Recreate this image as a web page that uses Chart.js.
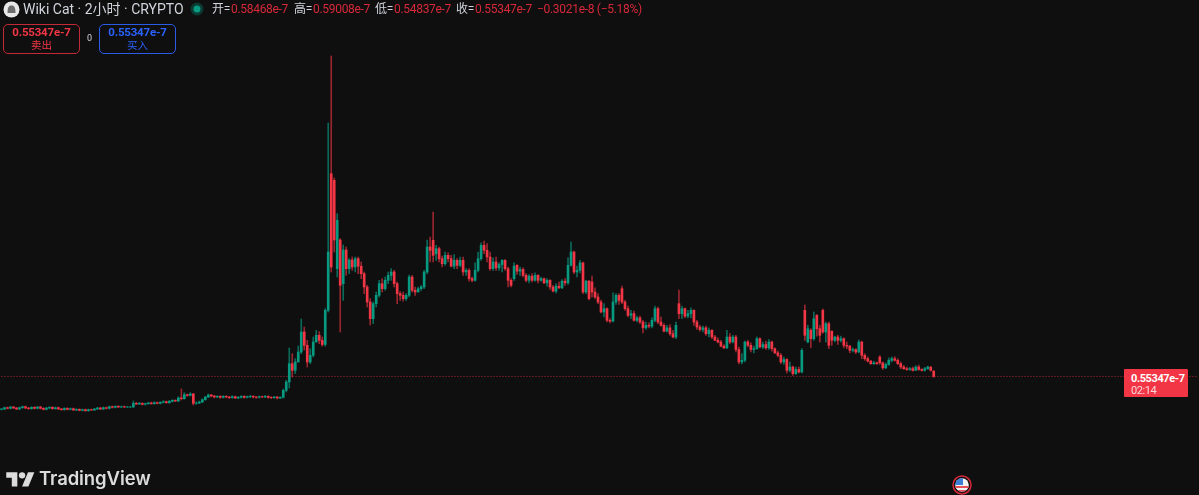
<!DOCTYPE html>
<html>
<head>
<meta charset="utf-8">
<title>Wiki Cat</title>
<script src="https://cdn.jsdelivr.net/npm/chart.js@4"></script>
<style>
  html, body { margin: 0; padding: 0; background: #0f0f0f; overflow: hidden; }
  #wrap { position: relative; width: 1199px; height: 495px; font-family: Roboto, "Noto Sans CJK SC", sans-serif; }
  canvas { position: absolute; left: 0; top: 0; }
  .t { position: absolute; white-space: nowrap; line-height: 16px; font-size: 12px; letter-spacing: -.3px; }
  .g { color: #d1d4dc; }
  .r { color: #d8293a; }
  .box { position: absolute; top: 24px; width: 75px; height: 28px; border: 1px solid; border-radius: 5px; text-align: center; }
  .box b { display: block; font-size: 11.5px; line-height: 14px; letter-spacing: -.2px; }
  .box span { display: block; font-size: 10.5px; line-height: 13px; }
  #last { position: absolute; left: 1124px; top: 369px; width: 64px; height: 28px; background: #f23645; border-radius: 1px; color: #fff; font-size: 11px; letter-spacing: -.4px; }
  #last div { position: absolute; left: 7px; line-height: 13px; white-space: nowrap; }
</style>
</head>
<body>
<div id="wrap">
  <canvas id="candles" width="1199" height="495"></canvas>

  <svg style="position:absolute;left:3px;top:1px" width="17" height="17" viewBox="0 0 17 17">
    <circle cx="8.5" cy="8.5" r="8" fill="#e8e8e8"/>
    <path d="M4.5 12 C4.5 6 6 4.5 8.5 4.5 S12.5 6 12.5 12 Z" fill="#6d6d6d"/>
  </svg>
  <div class="t g" style="left:23px;top:1px;font-size:14px;letter-spacing:0">Wiki Cat · 2小时 · CRYPTO</div>
  <svg style="position:absolute;left:190px;top:2px" width="14" height="14" viewBox="0 0 14 14">
    <circle cx="7" cy="7" r="6.5" fill="#0c3a33"/>
    <circle cx="7" cy="7" r="3.5" fill="#089981"/>
  </svg>
  <div class="t g" style="left:212px;top:1px">开=</div>
  <div class="t r" style="left:231px;top:1px">0.58468e-7</div>
  <div class="t g" style="left:294px;top:1px">高=</div>
  <div class="t r" style="left:313px;top:1px">0.59008e-7</div>
  <div class="t g" style="left:375px;top:1px">低=</div>
  <div class="t r" style="left:394px;top:1px">0.54837e-7</div>
  <div class="t g" style="left:456px;top:1px">收=</div>
  <div class="t r" style="left:475px;top:1px">0.55347e-7</div>
  <div class="t r" style="left:537px;top:1px">−0.3021e-8 (−5.18%)</div>

  <div class="box" style="left:3px;border-color:#c22a38;color:#f23645"><b>0.55347e-7</b><span>卖出</span></div>
  <div class="t g" style="left:87px;top:30px;font-size:9px">0</div>
  <div class="box" style="left:99px;border-color:#2a5ce8;color:#2962ff"><b>0.55347e-7</b><span>买入</span></div>

  <div id="last">
    <div style="top:3px;font-weight:700">0.55347e-7</div>
    <div style="top:15px;opacity:.8">02:14</div>
  </div>

  <svg style="position:absolute;left:6px;top:469px" width="29" height="19" viewBox="0 0 36 24">
    <path d="M14 22H7V11H0V4h14v18zM28 22h-8l7.5-18h8L28 22z" fill="#dcdcdc"/>
    <circle cx="20" cy="8" r="4" fill="#dcdcdc"/>
  </svg>
  <div class="t" style="left:39px;top:466px;font-size:18.5px;line-height:24px;font-weight:600;color:#dcdcdc;font-family:Inter,sans-serif;letter-spacing:-.1px">TradingView</div>

  <svg style="position:absolute;left:952px;top:475px" width="20" height="20" viewBox="0 0 20 20">
    <clipPath id="fl"><circle cx="10" cy="10" r="6.8"/></clipPath>
    <circle cx="10" cy="10" r="9" fill="#0f0f0f" stroke="#d8293a" stroke-width="1.5"/>
    <g clip-path="url(#fl)">
      <rect x="3" y="3" width="14" height="14" fill="#f4f4f4"/>
      <rect x="3" y="11" width="14" height="2" fill="#e8505a"/>
      <rect x="3" y="15" width="14" height="2" fill="#e8505a"/>
      <rect x="3" y="3" width="8" height="7" fill="#3c7fd6"/>
    </g>
  </svg>
</div>

<script>
// prices in units of 0.001e-7
const opens = [
  356,358,366,362,370,364,358,366,372,364,
  360,368,362,370,362,356,364,368,360,366,
  358,354,362,356,360,352,356,350,354,348,
  354,352,358,364,358,366,362,372,368,374,
  370,372,370,370,370,392,388,392,386,390,
  394,390,396,392,398,402,396,404,410,406,
  424,420,444,440,448,392,394,400,414,430,
  442,436,430,434,428,434,430,426,432,424,
  428,434,428,432,434,430,428,432,430,434,
  428,426,430,424,428,470,520,630,590,640,
  700,820,740,640,680,760,800,770,745,950,
  1770,1730,1200,1372,1110,1312,1200,1252,1210,1260,
  1215,1170,1090,1000,900,990,1040,1110,1080,1130,
  1160,1180,1110,1050,1040,1020,1040,1150,1070,1060,
  1080,1090,1180,1330,1370,1290,1320,1260,1230,1280,
  1260,1215,1250,1220,1250,1180,1190,1140,1130,1190,
  1260,1340,1310,1270,1200,1240,1205,1225,1250,1200,
  1130,1140,1220,1185,1195,1160,1130,1155,1130,1160,
  1130,1140,1115,1130,1090,1065,1095,1085,1125,1115,
  1220,1300,1180,1190,1235,1060,1125,1120,1060,1030,
  1000,940,960,890,885,1000,1040,1080,1000,960,
  920,930,890,905,880,845,860,855,890,960,
  880,860,825,845,810,790,990,930,960,915,
  930,950,880,850,835,845,810,830,790,770,
  760,735,725,790,760,790,715,640,650,760,
  740,715,720,780,730,745,725,760,720,695,
  680,640,655,590,610,570,595,580,950,760,
  830,780,920,840,950,820,870,825,770,790,
  770,780,740,735,710,715,700,760,680,660,
  645,630,635,670,635,605,625,650,660,650,
  630,610,600,595,600,590,610,595,590,600,610,584.68
];
const highs = [
  362,370,370,374,374,368,370,376,376,368,
  372,372,374,374,366,368,372,372,370,370,
  362,366,366,364,364,360,360,358,358,358,
  358,362,368,368,370,370,376,376,378,378,
  376,376,374,374,406,398,398,396,394,398,
  400,402,400,402,408,406,410,414,414,432,
  478,456,448,456,452,402,406,420,434,448,
  446,440,438,438,438,438,434,438,436,434,
  438,438,436,440,438,434,436,436,440,438,
  432,434,434,432,478,530,724,690,660,736,
  898,850,770,720,790,830,822,790,960,2074,
  2476,1745,1530,1380,1342,1330,1260,1270,1270,1270,
  1240,1180,1100,1020,1000,1060,1130,1140,1150,1180,
  1200,1190,1120,1062,1060,1050,1162,1160,1090,1090,
  1100,1190,1372,1390,1540,1340,1330,1275,1300,1295,
  1280,1285,1260,1270,1270,1200,1200,1150,1235,1300,
  1355,1365,1350,1300,1265,1270,1235,1255,1255,1210,
  1140,1235,1225,1210,1205,1170,1165,1170,1175,1165,
  1150,1145,1140,1135,1100,1110,1120,1135,1140,1265,
  1360,1305,1215,1250,1240,1130,1130,1156,1085,1050,
  1012,990,965,900,1055,1050,1050,1096,1010,975,
  950,945,915,915,890,880,875,905,975,970,
  910,870,860,865,830,880,1072,975,965,950,
  965,955,890,860,855,855,845,835,800,785,
  770,745,830,810,800,800,730,690,766,770,
  755,735,790,785,760,765,775,765,725,705,
  690,670,660,640,615,610,610,720,982,860,
  840,940,925,860,958,880,880,826,795,800,
  795,785,760,740,725,720,772,765,690,670,
  650,645,640,678,640,635,665,670,672,660,
  640,620,610,608,610,618,622,600,608,615,612,590.08
];
const lows = [
  352,354,358,358,360,354,354,362,360,356,
  356,358,358,358,352,352,360,356,356,354,
  350,350,352,352,348,348,346,346,344,344,
  348,348,354,354,354,358,358,364,364,366,
  366,366,366,366,368,384,384,382,382,386,
  386,386,388,388,394,392,392,400,402,402,
  412,416,434,436,382,386,390,396,410,426,
  430,424,426,422,424,424,420,422,420,420,
  424,422,424,426,424,422,424,426,426,422,
  420,422,418,420,424,460,484,550,570,640,
  690,712,610,630,670,760,750,735,735,940,
  1180,1300,1150,820,1010,1160,1170,1190,1180,1170,
  1140,1050,970,862,870,970,1030,1060,1070,1110,
  1130,1090,990,1010,1005,1010,1030,1060,1040,1060,
  1070,1080,1170,1240,1240,1250,1240,1210,1220,1240,
  1210,1200,1200,1210,1160,1160,1125,1120,1125,1180,
  1250,1290,1240,1190,1190,1190,1190,1180,1190,1090,
  1090,1130,1165,1160,1150,1120,1115,1120,1125,1115,
  1125,1110,1095,1075,1060,1055,1080,1080,1100,1105,
  1215,1170,1150,1175,1050,1050,1012,1030,1020,990,
  935,910,880,875,880,985,985,990,950,910,
  900,885,880,870,815,835,845,845,880,870,
  855,820,820,800,785,780,900,900,905,905,
  905,860,835,825,820,800,790,780,770,755,
  730,720,720,750,755,700,628,628,640,730,
  700,695,715,725,720,715,715,705,690,670,
  630,625,575,580,560,565,575,575,770,755,
  725,770,795,760,812,760,720,740,760,745,
  760,725,720,695,700,690,695,660,650,640,
  625,625,625,625,595,600,620,640,645,625,
  600,595,590,590,585,588,590,585,585,595,585,548.37
];
const closes = [
  358,366,362,370,364,358,366,372,364,360,
  368,362,370,362,356,364,368,360,366,358,
  354,362,356,360,352,356,350,354,348,354,
  352,358,364,358,366,362,372,368,374,370,
  372,370,370,370,392,388,392,386,390,394,
  390,396,392,398,402,396,404,410,406,424,
  420,444,440,448,392,394,400,414,430,442,
  436,430,434,428,434,430,426,432,424,428,
  434,428,432,434,430,428,432,430,434,428,
  426,430,424,428,470,520,630,590,640,700,
  820,740,640,680,760,800,770,745,950,1300,
  1210,1372,1490,1100,1312,1200,1252,1210,1260,1215,
  1170,1090,1000,900,990,1040,1110,1080,1130,1160,
  1180,1110,1050,1040,1020,1040,1150,1070,1060,1080,
  1090,1180,1330,1310,1280,1320,1260,1230,1280,1260,
  1215,1250,1220,1250,1180,1190,1140,1130,1190,1260,
  1340,1310,1270,1200,1240,1205,1225,1250,1200,1130,
  1100,1215,1185,1195,1160,1130,1155,1130,1160,1130,
  1140,1115,1130,1090,1065,1095,1085,1125,1115,1220,
  1300,1180,1190,1235,1060,1125,1020,1060,1030,1000,
  940,960,890,885,1000,1040,1010,1000,960,920,
  930,890,905,880,845,860,855,890,960,880,
  860,825,845,810,790,860,930,960,915,930,
  950,880,850,835,845,810,830,790,770,760,
  735,725,790,760,790,715,640,650,760,740,
  715,720,780,730,745,725,760,720,695,680,
  640,655,590,610,570,595,580,710,800,840,
  780,900,840,800,820,870,740,770,790,770,
  780,740,735,710,715,700,760,680,660,645,
  630,635,630,635,605,625,650,660,650,630,
  610,600,595,600,590,610,595,590,600,610,590,553.47
];
const lastPrice = 553.47;

// bars plus the empty space to the right of the last candle
const labels = [];
for (let i = 0; i < 400; i++) labels.push(i);

const upColor = '#089981';
const downColor = '#f23645';
const upWick = 'rgba(8,153,129,0.65)';
const downWick = 'rgba(242,54,69,0.6)';

const wicks = lows.map((l, i) => [l, highs[i]]);
const bodies = opens.map((o, i) => [o, closes[i]]);

new Chart(document.getElementById('candles'), {
  type: 'bar',
  data: {
    labels: labels,
    datasets: [
      {
        type: 'line',
        data: labels.map(() => lastPrice),
        borderColor: 'rgba(242,54,69,0.75)',
        borderWidth: 1,
        borderDash: [1, 2],
        pointRadius: 0,
        order: 3
      },
      {
        data: wicks,
        grouped: false,
        barThickness: 1,
        borderSkipped: false,
        backgroundColor: (ctx) => closes[ctx.dataIndex] >= opens[ctx.dataIndex] ? upWick : downWick,
        order: 2
      },
      {
        data: bodies,
        grouped: false,
        barThickness: 2,
        borderSkipped: false,
        backgroundColor: (ctx) => closes[ctx.dataIndex] >= opens[ctx.dataIndex] ? upColor : downColor,
        order: 1
      }
    ]
  },
  options: {
    responsive: false,
    animation: false,
    layout: { padding: 0 },
    plugins: { legend: { display: false }, tooltip: { enabled: false } },
    scales: {
      x: { display: false, offset: true },
      y: { display: false, min: -158, max: 2812 }
    }
  }
});
</script>
</body>
</html>
